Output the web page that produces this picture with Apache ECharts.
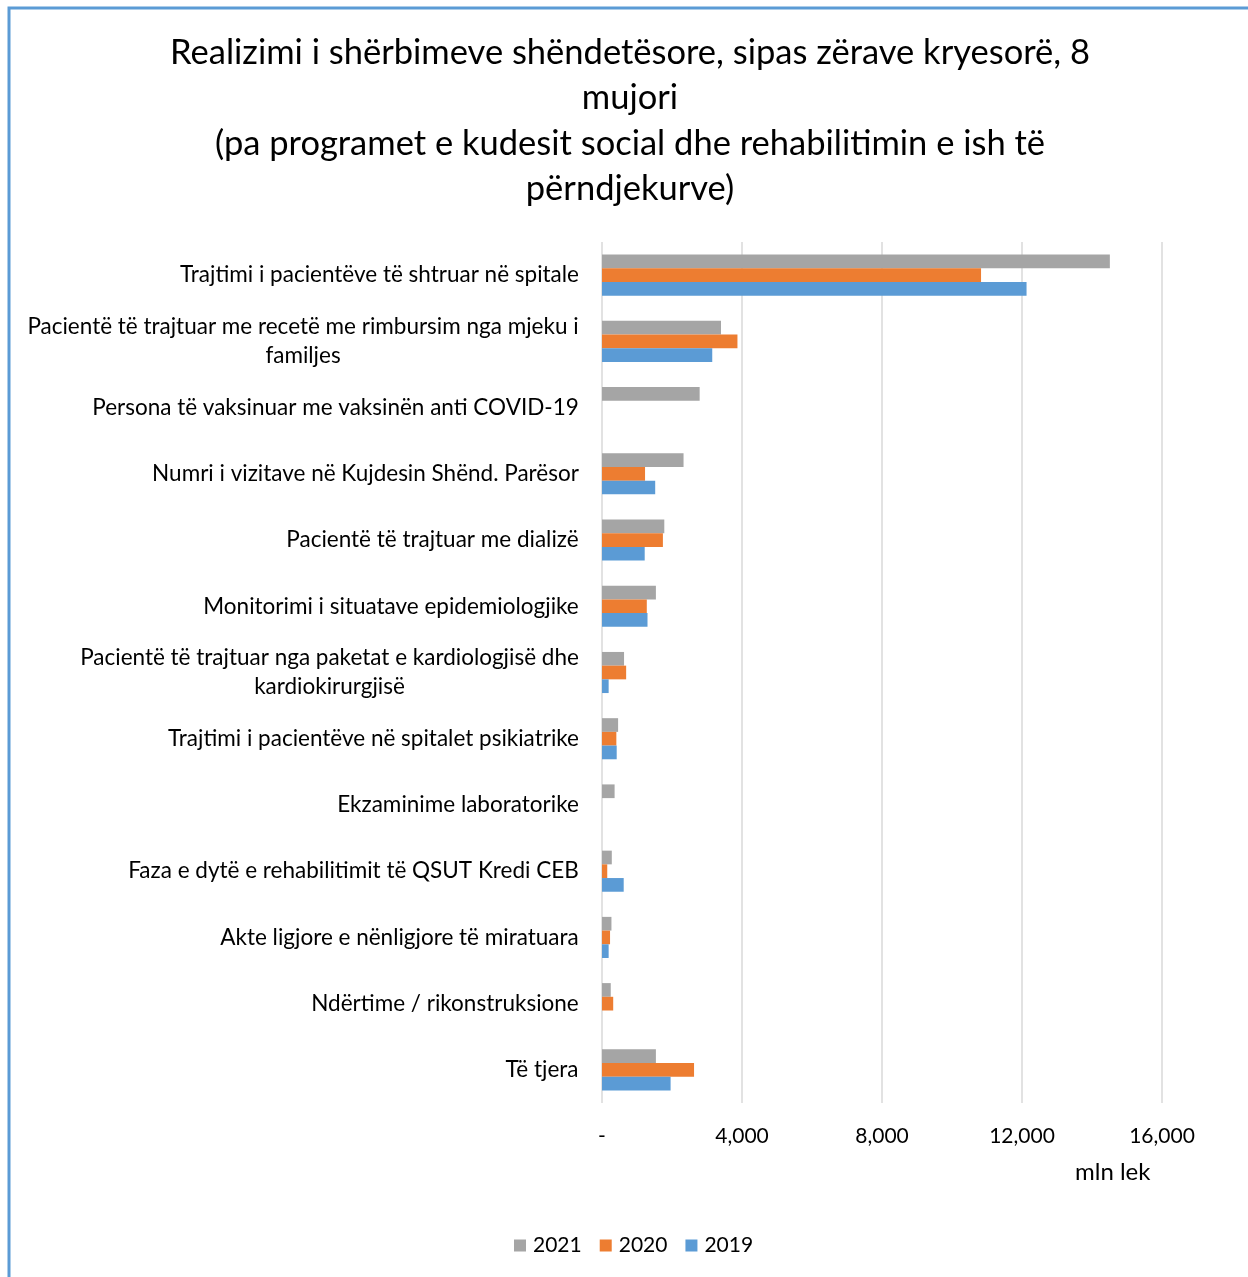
<!DOCTYPE html>
<html>
<head>
<meta charset="utf-8">
<script src="https://cdn.jsdelivr.net/npm/echarts@6/dist/echarts.min.js"></script>
<style>
  html, body { margin: 0; padding: 0; background: #fff; }
  #chart { width: 1248px; height: 1277px; }
</style>
</head>
<body>
<div id="chart"></div>
<script>
// kategoritë (nga lart poshtë)
const categories = [
  'Trajtimi i pacientëve të shtruar në spitale',
  'Pacientë të trajtuar me recetë me rimbursim nga mjeku i\nfamiljes',
  'Persona të vaksinuar me vaksinën anti COVID-19',
  'Numri i vizitave në Kujdesin Shënd. Parësor',
  'Pacientë të trajtuar me dializë',
  'Monitorimi i situatave epidemiologjike',
  'Pacientë të trajtuar nga paketat e kardiologjisë dhe\nkardiokirurgjisë',
  'Trajtimi i pacientëve në spitalet psikiatrike',
  'Ekzaminime laboratorike',
  'Faza e dytë e rehabilitimit të QSUT Kredi CEB',
  'Akte ligjore e nënligjore të miratuara',
  'Ndërtime / rikonstruksione',
  'Të tjera'
]
const seriesNames = ['2021', '2020', '2019']
const v2021 = [14510, 3400, 2790, 2330, 1780, 1540, 630, 460, 360, 280, 270, 250, 1540]
const v2020 = [10830, 3870, null, 1230, 1740, 1280, 690, 410, null, 150, 230, 320, 2630]
const v2019 = [12130, 3150, null, 1520, 1220, 1300, 190, 420, null, 620, 190, null, 1960]
const xTicks = [0, 4000, 8000, 12000, 16000]

const colors = ['#a5a5a5', '#ed7d31', '#5b9bd5']
const font = 'Lato'
const labelSize = 22.5

// gjerësia e rreshtave për etiketat me dy rreshta (rreshtat qendërzohen)
const ctx = document.createElement('canvas').getContext('2d')
ctx.font = labelSize + 'px ' + font
const rich = {}
categories.forEach((c, i) => {
  const lines = c.split('\n')
  const w = Math.max(...lines.map((l) => ctx.measureText(l).width))
  rich['r' + i] = { width: Math.ceil(w), align: 'center', fontSize: labelSize, fontFamily: font, color: '#000', lineHeight: 29 }
})

const chart = echarts.init(document.getElementById('chart'))

const option = {
  animation: false,
  backgroundColor: '#fff',
  title: {
    text: 'Realizimi i shërbimeve shëndetësore, sipas zërave kryesorë, 8\nmujori\n(pa programet e kudesit social dhe rehabilitimin e ish të\npërndjekurve)',
    left: 625,
    top: 25,
    textAlign: 'center',
    textStyle: {
      fontFamily: font,
      fontSize: 34.5,
      fontWeight: 'normal',
      color: '#000',
      lineHeight: 45.5
    }
  },
  legend: {
    data: seriesNames,
    left: 509,
    top: 1230,
    itemWidth: 12,
    itemHeight: 12,
    itemGap: 18,
    icon: 'rect',
    textStyle: { fontFamily: font, fontSize: 21, color: '#000', padding: [0, 0, 0, 2] }
  },
  grid: {
    left: 602,
    right: 86,
    top: 242,
    bottom: 174,
    containLabel: false
  },
  xAxis: {
    type: 'value',
    min: xTicks[0],
    max: xTicks[xTicks.length - 1],
    interval: 4000,
    axisLine: { show: false },
    axisTick: { show: false },
    splitLine: { lineStyle: { color: '#d9d9d9', width: 1.5 } },
    axisLabel: {
      margin: 23,
      fontFamily: font,
      fontSize: 21,
      color: '#000',
      formatter: (v) => (v === 0 ? '-' : v.toLocaleString('en-US'))
    }
  },
  yAxis: {
    type: 'category',
    data: categories,
    inverse: true,
    axisLine: { show: false },
    axisTick: { show: false },
    axisLabel: {
      margin: 23,
      fontFamily: font,
      fontSize: labelSize,
      color: '#000',
      lineHeight: 29,
      formatter: (value, idx) => value.split('\n').map((l) => '{r' + idx + '|' + l + '}').join('\n'),
      rich: rich
    }
  },
  series: [
    { name: seriesNames[0], type: 'bar', data: v2021, barWidth: 13.7, barGap: '0%', itemStyle: { color: colors[0] } },
    { name: seriesNames[1], type: 'bar', data: v2020, barWidth: 13.7, barGap: '0%', itemStyle: { color: colors[1] } },
    { name: seriesNames[2], type: 'bar', data: v2019, barWidth: 13.7, barGap: '0%', itemStyle: { color: colors[2] } }
  ],
  graphic: [
    {
      type: 'rect',
      shape: { x: 9, y: 8, width: 1400, height: 1400 },
      style: { fill: null, stroke: '#5b9bd5', lineWidth: 3 }
    },
    {
      type: 'text',
      left: 1075,
      top: 1160,
      style: { text: 'mln lek', fontFamily: font, fontSize: 24, fill: '#000' }
    }
  ]
}

chart.setOption(option)
</script>
</body>
</html>
